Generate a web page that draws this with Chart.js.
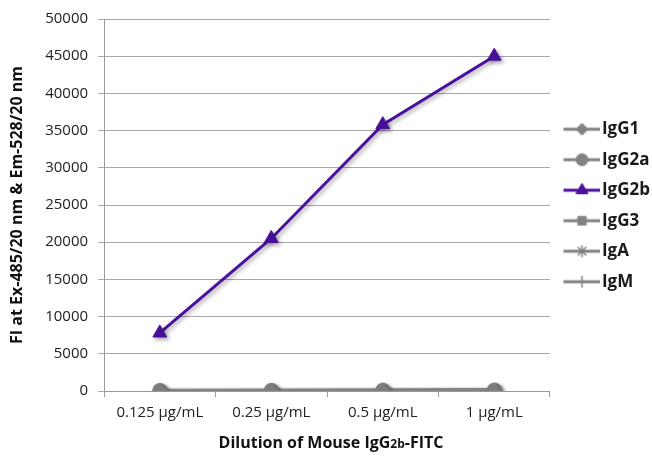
<!DOCTYPE html>
<html>
<head>
<meta charset="utf-8">
<script src="https://cdn.jsdelivr.net/npm/chart.js@4/dist/chart.umd.min.js"></script>
<style>
  html, body { margin: 0; padding: 0; background: #fff; }
  #wrap { width: 652px; height: 456px; position: relative; }
</style>
</head>
<body>
<div id="wrap"><canvas id="chart"></canvas></div>
<script>
// dilutions on the x axis
const dilutions = ["0.125 µg/mL", "0.25 µg/mL", "0.5 µg/mL", "1 µg/mL"];

// fluorescence intensity per isotype
const igg1  = [60, 80, 100, 120];
const igg2a = [70, 90, 110, 130];
const igg2b = [7800, 20500, 35800, 45000];
const igg3  = [50, 70, 90, 110];
const iga   = [40, 60, 80, 100];
const igm   = [50, 60, 80, 90];

const yTicks = [0, 5000, 10000, 15000, 20000, 25000, 30000, 35000, 40000, 45000, 50000];

const gray = "#828282";
const purple = "#4a119e";
const fontFam = "'Open Sans', 'DejaVu Sans', sans-serif";

// legend swatch: line with the marker on it (left 7px kept empty)
function legendIcon(style, color, radius) {
	const c = document.createElement("canvas");
	c.width = 44;
	c.height = 18;
	const g = c.getContext("2d");
	g.strokeStyle = color;
	g.lineWidth = 3;
	g.beginPath();
	g.moveTo(7, 9);
	g.lineTo(44, 9);
	g.stroke();
	g.fillStyle = color;
	g.lineWidth = style === "star" || style === "cross" ? 1.5 : 1;
	Chart.helpers.drawPoint(g, { pointStyle: style, radius: radius, rotation: 0, borderWidth: g.lineWidth }, 25.5, 9);
	return c;
}

function series(label, data, color, style, radius) {
	return {
		label: label,
		data: data,
		borderColor: color,
		backgroundColor: color,
		borderWidth: 3,
		pointStyle: style,
		pointRadius: radius,
		pointBorderWidth: style === "star" || style === "cross" ? 1.5 : 1,
		pointHoverRadius: radius,
		tension: 0,
		icon: legendIcon(style, color, radius - 1)
	};
}

const datasets = [
	series("IgG1", igg1, gray, "rectRot", 7),
	series("IgG2a", igg2a, gray, "circle", 7),
	series("IgG2b", igg2b, purple, "triangle", 8),
	series("IgG3", igg3, gray, "rect", 7),
	series("IgA", iga, gray, "star", 7),
	series("IgM", igm, gray, "cross", 7)
];

// soft drop shadow under the lines and markers
const shadowPlugin = {
	id: "shadow",
	beforeDatasetsDraw(chart) {
		const ctx = chart.ctx;
		ctx.save();
		ctx.shadowColor = "rgba(0,0,0,0.35)";
		ctx.shadowBlur = 4;
		ctx.shadowOffsetX = 2;
		ctx.shadowOffsetY = 2;
	},
	afterDatasetsDraw(chart) {
		chart.ctx.restore();
	}
};

// x title with the subscript "2b"
const xTitlePlugin = {
	id: "xTitle",
	afterDraw(chart) {
		const ctx = chart.ctx;
		const area = chart.chartArea;
		const parts = [
			{ t: "Dilution of Mouse IgG", f: "bold 16px " + fontFam, dy: 0 },
			{ t: "2b", f: "bold 12px " + fontFam, dy: 2 },
			{ t: "-FITC", f: "bold 16px " + fontFam, dy: 0 }
		];
		ctx.save();
		ctx.fillStyle = "#111";
		ctx.textBaseline = "middle";
		let total = 0;
		parts.forEach(p => { ctx.font = p.f; p.w = ctx.measureText(p.t).width; total += p.w; });
		let x = (area.left + area.right) / 2 + 4 - total / 2;
		const y = 443;
		parts.forEach(p => {
			ctx.font = p.f;
			ctx.fillText(p.t, x, y + p.dy);
			x += p.w;
		});
		ctx.restore();
	}
};

new Chart(document.getElementById("chart"), {
	type: "line",
	data: { labels: dilutions, datasets: datasets },
	plugins: [shadowPlugin, xTitlePlugin],
	options: {
		responsive: true,
		maintainAspectRatio: false,
		animation: false,
		layout: { padding: { top: 10, right: -8, bottom: 27, left: 8 } },
		plugins: {
			tooltip: { enabled: false },
			legend: {
				position: "right",
				align: "start",
				title: { display: true, text: " ", color: "#fff", font: { size: 1 }, padding: { top: 96, bottom: 0 } },
				labels: {
					usePointStyle: true,
					pointStyleWidth: 30,
					boxHeight: 17,
					padding: 13.5,
					color: "#1a1a1a",
					font: { family: fontFam, size: 17, weight: "bold" },
					generateLabels(chart) {
						return chart.data.datasets.map((ds, i) => ({
							text: ds.label,
							pointStyle: ds.icon,
							fillStyle: ds.borderColor,
							strokeStyle: ds.borderColor,
							fontColor: "#1a1a1a",
							lineWidth: 0,
							hidden: false,
							datasetIndex: i
						}));
					}
				}
			}
		},
		scales: {
			x: {
				offset: true,
				grid: { offset: true, drawOnChartArea: false, drawTicks: true, tickLength: 6, color: "#9a9a9a" },
				border: { color: "#9a9a9a", width: 1 },
				ticks: { color: "#222", font: { family: fontFam, size: 15 }, padding: 7 }
			},
			y: {
				min: 0,
				max: 50000,
				afterBuildTicks(axis) { axis.ticks = yTicks.map(v => ({ value: v })); },
				grid: { color: "#a8a8a8", tickLength: 6, lineWidth: 1 },
				border: { color: "#9a9a9a", width: 1 },
				ticks: { color: "#222", font: { family: fontFam, size: 15 }, padding: 10, callback: v => String(v) },
				title: {
					display: true,
					text: "FI at Ex-485/20 nm & Em-528/20 nm",
					color: "#111",
					font: { family: fontFam, size: 16, weight: "bold" },
					padding: { top: 0, bottom: 8 }
				}
			}
		}
	}
});
</script>
</body>
</html>
